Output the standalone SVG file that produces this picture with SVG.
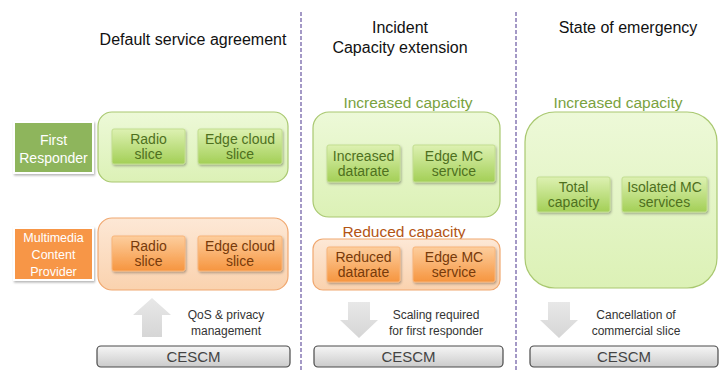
<svg xmlns="http://www.w3.org/2000/svg" width="727" height="372" viewBox="0 0 727 372">
<defs>
<linearGradient id="gBig" x1="0" y1="0" x2="0" y2="1"><stop offset="0" stop-color="#EDF9D8"/><stop offset="1" stop-color="#DCF1B6"/></linearGradient>
<linearGradient id="gSlice" x1="0" y1="0" x2="0" y2="1"><stop offset="0" stop-color="#DDF1B2"/><stop offset="1" stop-color="#A3CF56"/></linearGradient>
<linearGradient id="oBig" x1="0" y1="0" x2="0" y2="1"><stop offset="0" stop-color="#FDE8D6"/><stop offset="1" stop-color="#FAD2AE"/></linearGradient>
<linearGradient id="oSlice" x1="0" y1="0" x2="0" y2="1"><stop offset="0" stop-color="#FDCE9E"/><stop offset="1" stop-color="#F6953F"/></linearGradient>
<linearGradient id="gray" x1="0" y1="0" x2="0" y2="1"><stop offset="0" stop-color="#F6F6F6"/><stop offset="1" stop-color="#CBCBCB"/></linearGradient>
<linearGradient id="arrowG" x1="0" y1="0" x2="0" y2="1"><stop offset="0" stop-color="#E8E8E8"/><stop offset="1" stop-color="#D6D6D6"/></linearGradient>
<filter id="sh" x="-10%" y="-10%" width="130%" height="140%"><feDropShadow dx="1" dy="1.5" stdDeviation="1" flood-color="#000" flood-opacity="0.3"/></filter>
</defs>
<style>
text{font-family:"Liberation Sans",Arial,sans-serif;text-anchor:middle}
.title{font-size:16px;fill:#111}
.gbig{fill:url(#gBig);stroke:#A9C870;stroke-width:1.2}
.obig{fill:url(#oBig);stroke:#F0A870;stroke-width:1.2}
.gs{fill:url(#gSlice);stroke:#C3DE90;stroke-width:1;filter:url(#sh)}
.os{fill:url(#oSlice);stroke:#F8B57A;stroke-width:1;filter:url(#sh)}
.gt{font-size:14px;fill:#4E701E}
.ot{font-size:14px;fill:#773A0A}
.hg{font-size:15.5px;fill:#7AA240}
.ho{font-size:15.5px;fill:#B35514}
.lab{stroke:#fff;stroke-width:2;filter:url(#sh)}
.lt{fill:#fff;font-size:14px}
.lt2{fill:#fff;font-size:12.5px}
.ces{fill:url(#gray);stroke:#4A4A4A;stroke-width:1.2}
.cest{font-size:15px;fill:#444}
.arr{fill:url(#arrowG)}
.note{font-size:12px;fill:#333}
.dash{stroke:#8E80B8;stroke-width:1.6;stroke-dasharray:4 2;fill:none}
</style>

<g id="titles">
<text class="title" x="193" y="45">Default service agreement</text>
<text class="title" x="400" y="33">Incident</text>
<text class="title" x="400" y="53">Capacity extension</text>
<text class="title" x="628" y="33">State of emergency</text>
</g>

<g id="connectors">
<line class="dash" x1="301" y1="12" x2="301" y2="372"/>
<line class="dash" x1="516" y1="12" x2="516" y2="372"/>
<path class="arr" d="M152,298 L171,315 L162,315 L162,337 L142,337 L142,315 L133,315 Z"/>
<path class="arr" d="M348,302 L370,302 L370,320 L378,320 L359,338 L340,320 L348,320 Z"/>
<path class="arr" d="M548,302 L570,302 L570,320 L578,320 L559,338 L540,320 L548,320 Z"/>
</g>

<g id="label-first-responder">
<rect class="lab" x="14" y="122" width="79" height="51" fill="#8EB55C"/>
<text class="lt" x="53.5" y="145">First</text>
<text class="lt" x="53.5" y="163">Responder</text>
</g>
<g id="label-mcp">
<rect class="lab" x="14" y="228" width="79" height="52" fill="#F79646"/>
<text class="lt2" x="53.5" y="242">Multimedia</text>
<text class="lt2" x="53.5" y="259">Content</text>
<text class="lt2" x="53.5" y="276">Provider</text>
</g>

<g id="default-fr">
<rect class="gbig" x="98" y="112" width="190" height="70" rx="14"/>
<g id="default-fr-radio"><rect class="gs" x="112" y="129" width="73" height="35" rx="2"/><text class="gt" x="148.5" y="144">Radio</text><text class="gt" x="148.5" y="159">slice</text></g>
<g id="default-fr-edge"><rect class="gs" x="198" y="129" width="84" height="35" rx="2"/><text class="gt" x="240" y="144">Edge cloud</text><text class="gt" x="240" y="159">slice</text></g>
</g>

<g id="default-mcp">
<rect class="obig" x="98" y="218" width="190" height="72" rx="14"/>
<g id="default-mcp-radio"><rect class="os" x="112" y="236" width="73" height="35" rx="2"/><text class="ot" x="148.5" y="251">Radio</text><text class="ot" x="148.5" y="266">slice</text></g>
<g id="default-mcp-edge"><rect class="os" x="198" y="236" width="84" height="35" rx="2"/><text class="ot" x="240" y="251">Edge cloud</text><text class="ot" x="240" y="266">slice</text></g>
</g>

<g id="incident-fr">
<text class="hg" x="408" y="108">Increased capacity</text>
<rect class="gbig" x="313" y="112" width="187" height="105" rx="16"/>
<g id="incident-fr-datarate"><rect class="gs" x="327" y="145" width="73" height="37" rx="2"/><text class="gt" x="363.5" y="161">Increased</text><text class="gt" x="363.5" y="176">datarate</text></g>
<g id="incident-fr-edge"><rect class="gs" x="413" y="145" width="82" height="37" rx="2"/><text class="gt" x="454" y="161">Edge MC</text><text class="gt" x="454" y="176">service</text></g>
</g>

<g id="incident-mcp">
<text class="ho" x="404" y="237">Reduced capacity</text>
<rect class="obig" x="313" y="239" width="187" height="51" rx="10"/>
<g id="incident-mcp-datarate"><rect class="os" x="327" y="247" width="73" height="35" rx="2"/><text class="ot" x="363.5" y="262">Reduced</text><text class="ot" x="363.5" y="277">datarate</text></g>
<g id="incident-mcp-edge"><rect class="os" x="413" y="247" width="82" height="35" rx="2"/><text class="ot" x="454" y="262">Edge MC</text><text class="ot" x="454" y="277">service</text></g>
</g>

<g id="emergency-fr">
<text class="hg" x="618" y="108">Increased capacity</text>
<rect class="gbig" x="525" y="112" width="192" height="176" rx="30"/>
<g id="emergency-total"><rect class="gs" x="537" y="177" width="73" height="35" rx="2"/><text class="gt" x="573.5" y="192">Total</text><text class="gt" x="573.5" y="207">capacity</text></g>
<g id="emergency-isolated"><rect class="gs" x="622" y="177" width="85" height="35" rx="2"/><text class="gt" x="664.5" y="192">Isolated MC</text><text class="gt" x="664.5" y="207">services</text></g>
</g>

<g id="note-qos"><text class="note" x="226" y="319">QoS &amp; privacy</text><text class="note" x="226" y="335">management</text></g>
<g id="note-scaling"><text class="note" x="436" y="319">Scaling required</text><text class="note" x="436" y="335">for first responder</text></g>
<g id="note-cancel"><text class="note" x="636" y="319">Cancellation of</text><text class="note" x="636" y="335">commercial slice</text></g>

<g id="cescm-1"><rect class="ces" x="97" y="346" width="193" height="21" rx="4"/><text class="cest" x="193.5" y="362">CESCM</text></g>
<g id="cescm-2"><rect class="ces" x="314" y="346" width="189" height="21" rx="4"/><text class="cest" x="408.5" y="362">CESCM</text></g>
<g id="cescm-3"><rect class="ces" x="530" y="346" width="188" height="21" rx="4"/><text class="cest" x="624" y="362">CESCM</text></g>
</svg>
